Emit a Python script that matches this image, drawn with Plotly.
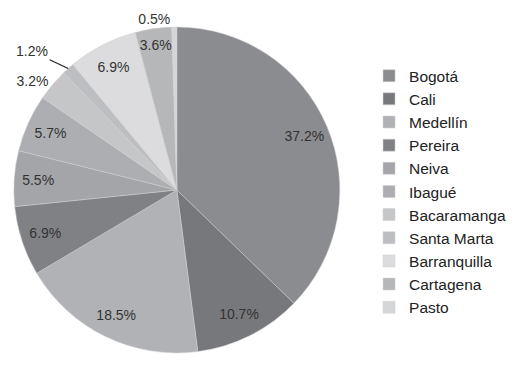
import math
import plotly.graph_objects as go

cities = ["Bogotá", "Cali", "Medellín", "Pereira", "Neiva", "Ibagué",
          "Bacaramanga", "Santa Marta", "Barranquilla", "Cartagena", "Pasto"]
shares = [37.2, 10.7, 18.5, 6.9, 5.5, 5.7, 3.2, 1.2, 6.9, 3.6, 0.5]
colors = ["#8b8c90", "#77787c", "#b1b2b5", "#808185", "#a4a5a8", "#adaeb1",
          "#c5c6c8", "#bdbec1", "#dcdcde", "#b6b7b9", "#d5d6d7"]
positions = ["inside", "inside", "inside", "inside", "inside", "inside",
             "outside", "outside", "inside", "inside", "outside"]
leader_city = "Santa Marta"

FONT = "Arial"
W, H = 531, 365
dom = dict(x=[0.026, 0.640], y=[0.033, 0.926])

# per-slice label text; the leader-lined slice gets its label from an annotation
templates = ["" if c == leader_city else "%{value:.1f}%" for c in cities]

# base pie: colours and legend
fig = go.Figure(go.Pie(
    labels=cities, values=shares, sort=False, direction="clockwise", rotation=0,
    marker=dict(colors=colors, line=dict(color="#cfcfd1", width=0.5)),
    textinfo="none",
    domain=dom, hoverinfo="label+percent",
))
# transparent ring overlay carrying the visible labels further out
fig.add_trace(go.Pie(
    labels=cities, values=shares, sort=False, direction="clockwise", rotation=0,
    hole=0.7, showlegend=False,
    marker=dict(colors=["rgba(0,0,0,0)"] * len(cities), line=dict(width=0)),
    texttemplate=templates, textposition=positions,
    insidetextorientation="horizontal",
    textfont=dict(family=FONT, size=14, color="#333333"),
    domain=dom, hoverinfo="skip",
))

# leader line for the thin slice, pointing at its outer edge (from the data)
i = cities.index(leader_city)
frac = (sum(shares[:i]) + shares[i] / 2) / sum(shares)
theta = 2 * math.pi * frac
cx = (dom["x"][0] + dom["x"][1]) / 2
cy = (dom["y"][0] + dom["y"][1]) / 2
r_px = min((dom["x"][1] - dom["x"][0]) * W, (dom["y"][1] - dom["y"][0]) * H) / 2
fig.add_annotation(
    x=cx + r_px * math.sin(theta) / W, y=cy + r_px * math.cos(theta) / H,
    xref="paper", yref="paper",
    text=f"{shares[i]:.1f}%", showarrow=True, arrowhead=0, arrowwidth=1.2,
    arrowcolor="#222222", ax=-36, ay=-17,
    font=dict(family=FONT, size=14, color="#333333"),
)

fig.update_layout(
    width=W, height=H,
    margin=dict(l=0, r=0, t=0, b=0),
    paper_bgcolor="white", plot_bgcolor="white",
    uniformtext=dict(minsize=14, mode="show"),
    font=dict(family=FONT, size=15.5, color="#222222"),
    legend=dict(x=0.695, y=0.838, xanchor="left", yanchor="top",
                font=dict(family=FONT, size=15.5), itemwidth=30, tracegroupgap=0),
)

fig.write_html("out.html", config={"displayModeBar": False},
               post_script="document.body.style.margin='0px';")
